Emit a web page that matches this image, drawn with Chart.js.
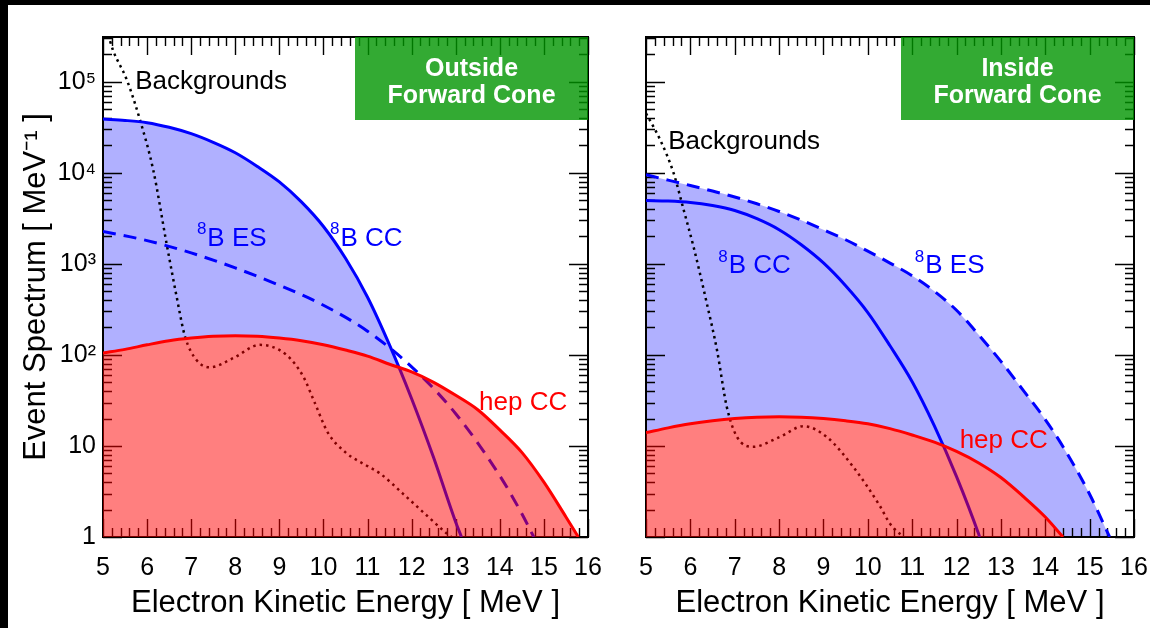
<!DOCTYPE html>
<html lang="en">
<head>
<meta charset="UTF-8">
<title>Event Spectrum</title>
<script src="https://cdn.jsdelivr.net/npm/chart.js"></script>
<style>
  body { margin: 0; background: #000; }
  #page { position: absolute; left: 8px; top: 5px; width: 1142px; height: 623px; background: #fff; overflow: hidden; }
  #outChart { position: absolute; left: 0; top: 0; }
  #inChart { position: absolute; left: 612px; top: 0; }
</style>
</head>
<body>
<div id="page">
  <canvas id="outChart" width="612" height="623"></canvas>
  <canvas id="inChart" width="530" height="623"></canvas>
</div>
<script>
// ---- data (energy in MeV, spectrum in 1/MeV) ----
// outside forward cone
const outHepE = [5, 5.5, 6, 6.5, 7, 7.5, 8, 8.5, 9, 9.5, 10, 10.5, 11, 11.5, 12, 12.5, 13, 13.5, 14, 14.5, 15, 15.5, 15.78];
const outHepV = [105, 115, 129, 143, 153, 160, 162, 160, 153, 143, 129, 113, 97, 79, 65, 50, 36, 25, 15, 8.5, 4, 1.66, 1];
const outCcE = [5, 5.5, 6, 6.5, 7, 7.5, 8, 8.5, 9, 9.5, 10, 10.5, 11, 11.5, 12, 12.5, 13, 13.13];
const outCcV = [38900, 37600, 35500, 31600, 26900, 21600, 16600, 11750, 7940, 4790, 2570, 1150, 430, 128, 33, 7.4, 1.45, 1];
const outEsE = [5, 6, 7, 8, 9, 10, 11, 12, 13, 14, 14.5, 14.77];
const outEsV = [2265, 1800, 1318, 902, 582, 351, 182, 74, 22.6, 4.7, 1.8, 1];
const outBgE = [5.05, 5.16, 5.23, 5.54, 5.85, 6.14, 6.44, 6.67, 6.86, 7.12, 7.43, 7.95, 8.56, 9.16, 9.54, 9.8, 10.1, 10.5, 11.0, 11.28, 11.8, 12.3, 12.79, 12.9];
const outBgV = [450000, 280000, 220000, 105000, 36500, 10700, 1690, 436, 159, 88, 73, 92, 129, 100, 58, 30, 14, 8.5, 6, 5, 3, 1.8, 1.1, 1];

// inside forward cone
const inHepE = [5, 5.5, 6, 6.5, 7, 7.5, 8, 8.5, 9, 9.5, 10, 10.5, 11, 11.5, 12, 12.5, 13, 13.5, 14, 14.4];
const inHepV = [14, 15.8, 17.5, 18.9, 20, 20.7, 20.9, 20.7, 20, 18.9, 17.5, 15.5, 13.2, 11, 8.7, 6.5, 4.5, 2.8, 1.66, 1];
const inCcE = [5, 5.5, 6, 6.5, 7, 7.5, 8, 8.5, 9, 9.5, 10, 10.5, 11, 11.5, 12, 12.5, 12.52];
const inCcV = [4960, 4900, 4730, 4365, 3850, 3130, 2370, 1620, 1023, 575, 292, 126, 50.7, 16.6, 4.6, 1.07, 1];
const inEsE = [5, 5.5, 6, 6.5, 7, 7.5, 8, 8.5, 9, 9.5, 10, 10.5, 11, 11.5, 12, 12.5, 13, 13.5, 14, 14.4, 15, 15.45];
const inEsV = [9500, 8300, 7250, 6300, 5430, 4570, 3760, 3020, 2370, 1840, 1380, 1020, 740, 500, 309, 166, 85, 41, 19.5, 9.8, 2.95, 1];
const inBgE = [5.0, 5.32, 5.62, 5.85, 6.07, 6.37, 6.6, 6.82, 7.05, 7.42, 8.02, 8.55, 9.07, 9.67, 10.27, 10.5, 10.8];
const inBgV = [45000, 23000, 10000, 3900, 1550, 370, 113, 27, 12.6, 9.8, 12.6, 16.5, 12.6, 5.9, 2.2, 1.4, 1];

// axes
const xMin = 5, xMax = 16;
const yMin = 1, yMax = 3.1e5;
const yTickText = {0: '1', 1: '10', 2: '10²', 3: '10³', 4: '10⁴', 5: '10⁵'};

const FONT = '"Liberation Sans", Arial, Helvetica, sans-serif';
Chart.defaults.font.family = FONT;
Chart.defaults.color = '#000';

const BLUE = '#0000ff';
const RED = '#ff0000';
const BLUE_FILL = 'rgba(0,0,255,0.31)';
const RED_FILL = 'rgba(255,0,0,0.5)';
const NONE = 'rgba(0,0,0,0)';

function pts(es, vs) {
    return es.map((e, i) => ({x: e, y: vs[i]}));
}

// label with optional superscript in front
function drawLabel(ctx, x, y, lab) {
    ctx.fillStyle = lab.color;
    ctx.textBaseline = 'middle';
    ctx.textAlign = 'left';
    let cx = x;
    if (lab.sup) {
        ctx.font = '17px ' + FONT;
        ctx.fillText(lab.sup, cx, y - 9);
        cx += ctx.measureText(lab.sup).width + 1;
    }
    ctx.font = '26px ' + FONT;
    ctx.fillText(lab.text, cx, y);
}

function drawFrame(chart) {
    const ctx = chart.ctx;
    const {left, right, top, bottom} = chart.chartArea;
    const xs = chart.scales.x, ys = chart.scales.y;
    ctx.save();
    ctx.strokeStyle = '#000';
    ctx.lineWidth = 1.4;
    ctx.beginPath();
    // x ticks pointing inwards, bottom and top
    for (let k = 0; k <= (xMax - xMin) * 5; k++) {
        const px = Math.round(xs.getPixelForValue(xMin + k * 0.2)) + 0.5;
        const len = k % 5 === 0 ? 18 : 9;
        ctx.moveTo(px, bottom); ctx.lineTo(px, bottom - len);
        ctx.moveTo(px, top); ctx.lineTo(px, top + len);
    }
    // y ticks, 1..9 per decade
    for (let d = 0; d <= 5; d++) {
        for (let m = 1; m <= 9; m++) {
            const v = m * Math.pow(10, d);
            if (v > ys.max) break;
            const py = Math.round(ys.getPixelForValue(v)) + 0.5;
            const len = m === 1 ? 19 : 9;
            ctx.moveTo(left, py); ctx.lineTo(left + len, py);
            ctx.moveTo(right, py); ctx.lineTo(right - len, py);
        }
    }
    ctx.stroke();
    ctx.lineWidth = 2;
    ctx.strokeRect(left, top, right - left, bottom - top);
    ctx.restore();
}

function decoPlugin(boxLines, labels) {
    return {
        id: 'panelDeco',
        afterDatasetDraw(chart, args) {
            // ticks go on top of the fills but under the curves
            if (chart.data.datasets[args.index].label === 'mask') drawFrame(chart);
        },
        afterDatasetsDraw(chart) {
            const ctx = chart.ctx;
            const {right, top} = chart.chartArea;
            const xs = chart.scales.x, ys = chart.scales.y;
            ctx.save();
            const bw = 233, bh = 83;
            ctx.fillStyle = 'rgba(0,149,0,0.8)';
            ctx.fillRect(right - bw, top, bw, bh);
            ctx.fillStyle = '#fff';
            ctx.font = 'bold 25px ' + FONT;
            ctx.textAlign = 'center';
            ctx.textBaseline = 'middle';
            ctx.fillText(boxLines[0], right - bw / 2, top + 32);
            ctx.fillText(boxLines[1], right - bw / 2, top + 59);
            labels.forEach(lab => {
                drawLabel(ctx, xs.getPixelForValue(lab.e), ys.getPixelForValue(lab.v), lab);
            });
            ctx.restore();
        }
    };
}

function makePanel(id, d) {
    const hep = pts(d.hepE, d.hepV);
    const cc = pts(d.ccE, d.ccV);
    const es = pts(d.esE, d.esV);
    const bg = pts(d.bgE, d.bgV);
    const topCurve = d.fillTop === 'cc' ? cc : es;

    const line = {pointRadius: 0, cubicInterpolationMode: 'monotone', fill: false};
    // drawn from last to first: blue area, white mask under hep, ticks, curves, red area
    const datasets = [
        Object.assign({}, line, {label: 'hep CC', data: hep, borderColor: RED, borderWidth: 3,
            fill: {target: 'start', above: RED_FILL, below: RED_FILL}}),
        Object.assign({}, line, {label: '8B CC', data: cc, borderColor: BLUE, borderWidth: 3}),
        Object.assign({}, line, {label: '8B ES', data: es, borderColor: BLUE, borderWidth: 3, borderDash: [13, 8]}),
        Object.assign({}, line, {label: 'Backgrounds', data: bg, borderColor: '#000', borderWidth: 2.5, borderDash: [2.5, 4]}),
        Object.assign({}, line, {label: 'mask', data: hep, borderWidth: 1, borderColor: NONE,
            fill: {target: 'start', above: '#fff', below: '#fff'}}),
        Object.assign({}, line, {label: 'blue', data: topCurve, borderWidth: 1, borderColor: NONE,
            fill: {target: 'start', above: BLUE_FILL, below: BLUE_FILL}})
    ];

    return new Chart(document.getElementById(id), {
        type: 'line',
        data: {datasets: datasets},
        options: {
            responsive: false,
            animation: false,
            layout: {padding: {top: 32, right: d.padRight, left: 0, bottom: 0}},
            plugins: {legend: {display: false}, tooltip: {enabled: false}},
            scales: {
                x: {
                    type: 'linear', min: xMin, max: xMax,
                    grid: {display: false, drawTicks: false},
                    border: {display: false},
                    // tall line height pushes the labels down without widening the side padding
                    ticks: {stepSize: 1, font: {size: 25, lineHeight: 2.4}, padding: 1, maxRotation: 0, autoSkip: false},
                    title: {display: true, text: 'Electron Kinetic Energy [ MeV ]', font: {size: 31}, padding: {bottom: 6}},
                    afterFit: s => { s.height = 91; }
                },
                y: {
                    type: 'logarithmic', min: yMin, max: yMax,
                    grid: {display: false, drawTicks: false},
                    border: {display: false},
                    ticks: {
                        display: d.yLabels, font: {size: 25}, padding: 7, autoSkip: false,
                        callback: v => {
                            const l = Math.log10(v);
                            return Math.abs(l - Math.round(l)) < 1e-9 ? yTickText[Math.round(l)] : '';
                        }
                    },
                    title: {display: d.yLabels, text: 'Event Spectrum [ MeV⁻¹ ]', font: {size: 31}, padding: {top: 10}},
                    afterFit: s => { s.width = d.yWidth; }
                }
            }
        },
        plugins: [decoPlugin(d.box, d.labels)]
    });
}

makePanel('outChart', {
    hepE: outHepE, hepV: outHepV, ccE: outCcE, ccV: outCcV,
    esE: outEsE, esV: outEsV, bgE: outBgE, bgV: outBgV,
    fillTop: 'cc', yLabels: true, yWidth: 95, padRight: 32,
    box: ['Outside', 'Forward Cone'],
    labels: [
        {text: 'Backgrounds', e: 5.73, v: 1.0e5, color: '#000'},
        {sup: '8', text: 'B ES', e: 7.13, v: 1900, color: BLUE},
        {sup: '8', text: 'B CC', e: 10.15, v: 1900, color: BLUE},
        {text: 'hep CC', e: 13.53, v: 30, color: RED}
    ]
});

makePanel('inChart', {
    hepE: inHepE, hepV: inHepV, ccE: inCcE, ccV: inCcV,
    esE: inEsE, esV: inEsV, bgE: inBgE, bgV: inBgV,
    fillTop: 'es', yLabels: false, yWidth: 26, padRight: 16,
    box: ['Inside', 'Forward Cone'],
    labels: [
        {text: 'Backgrounds', e: 5.5, v: 21900, color: '#000'},
        {sup: '8', text: 'B CC', e: 6.63, v: 950, color: BLUE},
        {sup: '8', text: 'B ES', e: 11.06, v: 950, color: BLUE},
        {text: 'hep CC', e: 12.07, v: 11.4, color: RED}
    ]
});
</script>
</body>
</html>
